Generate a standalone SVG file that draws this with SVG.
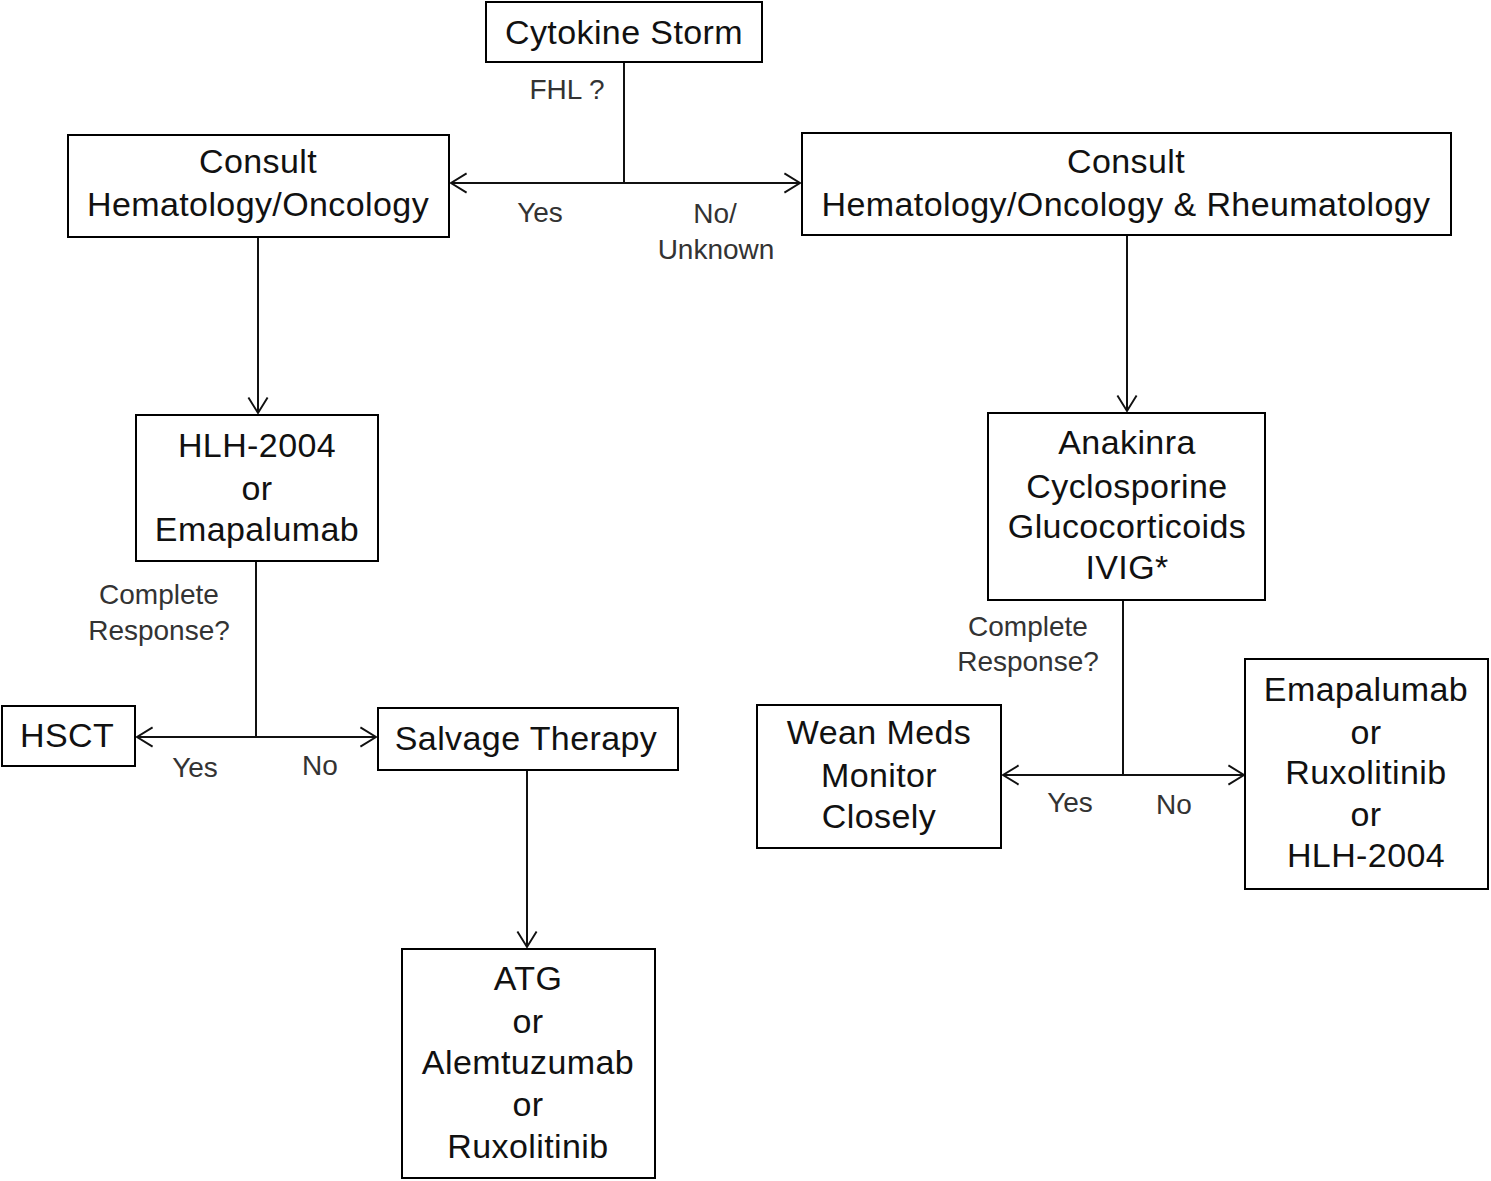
<svg xmlns="http://www.w3.org/2000/svg" width="1491" height="1181" viewBox="0 0 1491 1181">
<style>
.box{fill:#fff;stroke:#000;stroke-width:2}
.t{font-family:"Liberation Sans",Arial,sans-serif;font-size:34px;letter-spacing:0.4px;fill:#111;text-anchor:middle}
.l{font-family:"Liberation Sans",Arial,sans-serif;font-size:28px;fill:#333;text-anchor:middle}
.c{fill:none;stroke:#111;stroke-width:2}
</style>
<defs>
<marker id="ah" markerUnits="userSpaceOnUse" markerWidth="24" markerHeight="24" viewBox="-14 -10 16 20" refX="0" refY="0" orient="auto">
<path d="M-13,-8 L0,0 L-13,8" fill="none" stroke="#111" stroke-width="1.6"/>
</marker>
</defs>
<rect width="1491" height="1181" fill="#fff"/>
<g id="connectors">
<path class="c" d="M624,62 V183"/>
<path class="c" d="M624,183 H451" marker-end="url(#ah)"/>
<path class="c" d="M624,183 H800" marker-end="url(#ah)"/>
<path class="c" d="M258,237 V413" marker-end="url(#ah)"/>
<path class="c" d="M1127,235 V411" marker-end="url(#ah)"/>
<path class="c" d="M256,561 V737"/>
<path class="c" d="M256,737 H137" marker-end="url(#ah)"/>
<path class="c" d="M256,737 H376" marker-end="url(#ah)"/>
<path class="c" d="M527,770 V947" marker-end="url(#ah)"/>
<path class="c" d="M1123,600 V775"/>
<path class="c" d="M1123,775 H1003" marker-end="url(#ah)"/>
<path class="c" d="M1123,775 H1244" marker-end="url(#ah)"/>
</g>
<g id="labels">
<text class="l" x="567" y="99">FHL ?</text>
<text class="l" x="540" y="222">Yes</text>
<text class="l" x="715" y="223">No/</text>
<text class="l" x="716" y="259">Unknown</text>
<text class="l" x="159" y="604">Complete</text>
<text class="l" x="159" y="640">Response?</text>
<text class="l" x="195" y="777">Yes</text>
<text class="l" x="320" y="775">No</text>
<text class="l" x="1028" y="636">Complete</text>
<text class="l" x="1028" y="671">Response?</text>
<text class="l" x="1070" y="812">Yes</text>
<text class="l" x="1174" y="814">No</text>
</g>
<g id="cytokine-storm">
<rect class="box" x="486" y="2" width="276" height="60"/>
<text class="t" x="624" y="44">Cytokine Storm</text>
</g>
<g id="consult-left">
<rect class="box" x="68" y="135" width="381" height="102"/>
<text class="t" x="258" y="173">Consult</text>
<text class="t" x="258" y="216">Hematology/Oncology</text>
</g>
<g id="consult-right">
<rect class="box" x="802" y="133" width="649" height="102"/>
<text class="t" x="1126" y="173">Consult</text>
<text class="t" x="1126" y="216">Hematology/Oncology &amp; Rheumatology</text>
</g>
<g id="hlh2004">
<rect class="box" x="136" y="415" width="242" height="146"/>
<text class="t" x="257" y="457">HLH-2004</text>
<text class="t" x="257" y="500">or</text>
<text class="t" x="257" y="541">Emapalumab</text>
</g>
<g id="anakinra">
<rect class="box" x="988" y="413" width="277" height="187"/>
<text class="t" x="1127" y="454">Anakinra</text>
<text class="t" x="1127" y="498">Cyclosporine</text>
<text class="t" x="1127" y="538">Glucocorticoids</text>
<text class="t" x="1127" y="579">IVIG*</text>
</g>
<g id="hsct">
<rect class="box" x="2" y="706" width="133" height="60"/>
<text class="t" x="67" y="747">HSCT</text>
</g>
<g id="salvage">
<rect class="box" x="378" y="708" width="300" height="62"/>
<text class="t" x="526" y="750">Salvage Therapy</text>
</g>
<g id="atg">
<rect class="box" x="402" y="949" width="253" height="229"/>
<text class="t" x="528" y="990">ATG</text>
<text class="t" x="528" y="1033">or</text>
<text class="t" x="528" y="1074">Alemtuzumab</text>
<text class="t" x="528" y="1116">or</text>
<text class="t" x="528" y="1158">Ruxolitinib</text>
</g>
<g id="wean">
<rect class="box" x="757" y="705" width="244" height="143"/>
<text class="t" x="879" y="744">Wean Meds</text>
<text class="t" x="879" y="787">Monitor</text>
<text class="t" x="879" y="828">Closely</text>
</g>
<g id="emapalumab-right">
<rect class="box" x="1245" y="659" width="243" height="230"/>
<text class="t" x="1366" y="701">Emapalumab</text>
<text class="t" x="1366" y="744">or</text>
<text class="t" x="1366" y="784">Ruxolitinib</text>
<text class="t" x="1366" y="826">or</text>
<text class="t" x="1366" y="867">HLH-2004</text>
</g>
</svg>
